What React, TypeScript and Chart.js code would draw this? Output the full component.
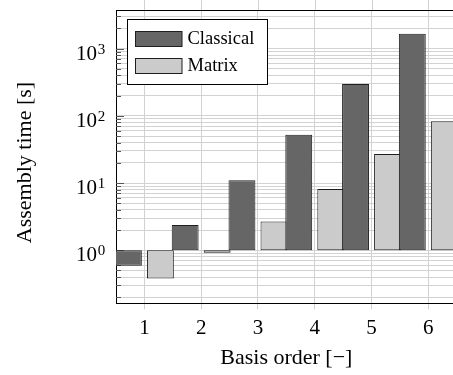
import React, { useEffect, useRef } from "react";
import { Chart, registerables } from "chart.js";

Chart.register(...registerables);

// ---- data ----
const categories = ["1", "2", "3", "4", "5", "6"];
const seriesNames = ["Classical", "Matrix"];
const classical = [0.59, 2.38, 10.96, 52.4, 297, 1660];
const matrix = [0.38, 0.915, 2.67, 8.17, 27.1, 82.6];
const barBase = 1;
const yMin = 0.1626;
const yMax = 3741;
const decadeExponents = [-1, 0, 1, 2, 3];
const minorMultipliers = [1, 2, 3, 4, 5, 6, 7, 8, 9];
const majorTickValues = [1, 10, 100, 1000];
const majorTickExps = ["0", "1", "2", "3"];
const xTitle = "Basis order [\u2212]";
const yTitle = "Assembly time [s]";

// ---- styles ----
const SERIF = "'Liberation Serif', 'Times New Roman', serif";
const classicalFill = "#666666";
const matrixFill = "#cbcbcb";
const barBorder = "#1e1e1e";
const gridColor = "#d2d2d2";

const CANVAS_W = 470;
const CANVAS_H = 375;
const PLOT_LEFT = 116;
const PLOT_RIGHT = 456.7;
const PLOT_TOP = 10;
const PLOT_BOTTOM = 303.3;

const overlay = {
  id: "overlay",
  beforeDatasetsDraw(chart: any) {
    const ctx = chart.ctx;
    const { left } = chart.chartArea;
    const y = chart.scales.y;
    ctx.save();
    ctx.strokeStyle = "#555";
    ctx.lineWidth = 1;
    y.ticks.forEach((t: any) => {
      const py = Math.round(y.getPixelForValue(t.value)) + 0.5;
      const major = majorTickValues.includes(t.value);
      ctx.beginPath();
      ctx.moveTo(left, py);
      ctx.lineTo(left + (major ? 8 : 5), py);
      ctx.stroke();
    });
    ctx.restore();
  },
  afterDraw(chart: any) {
    const ctx = chart.ctx;
    const { left, right, top, bottom } = chart.chartArea;
    const x = chart.scales.x;
    const y = chart.scales.y;
    ctx.save();

    // top tick marks (outside) at x ticks
    ctx.strokeStyle = gridColor;
    ctx.lineWidth = 1;
    x.ticks.forEach((_t: any, i: number) => {
      const px = Math.round(x.getPixelForTick(i)) + 0.5;
      ctx.beginPath();
      ctx.moveTo(px, 0);
      ctx.lineTo(px, top);
      ctx.stroke();
    });

    // top axis line
    ctx.strokeStyle = "#000";
    ctx.beginPath();
    ctx.moveTo(left, Math.round(top) + 0.5);
    ctx.lineTo(right, Math.round(top) + 0.5);
    ctx.stroke();

    // x tick labels
    ctx.fillStyle = "#000";
    ctx.font = `21px ${SERIF}`;
    ctx.textAlign = "center";
    ctx.textBaseline = "alphabetic";
    categories.forEach((c, i) => {
      ctx.fillText(c, x.getPixelForTick(i), bottom + 30.7);
    });

    // y tick labels (10^n)
    majorTickValues.forEach((v, i) => {
      const py = y.getPixelForValue(v);
      ctx.font = `21px ${SERIF}`;
      ctx.textAlign = "right";
      ctx.fillText("10", 97, py + 11);
      ctx.font = `15px ${SERIF}`;
      ctx.textAlign = "left";
      ctx.fillText(majorTickExps[i], 97.8, py + 5);
    });

    // axis titles
    ctx.font = `22px ${SERIF}`;
    ctx.textAlign = "center";
    ctx.fillText(xTitle, (left + right) / 2, 364.3);
    ctx.save();
    ctx.translate(31, 162.5);
    ctx.rotate(-Math.PI / 2);
    ctx.fillText(yTitle, 0, 0);
    ctx.restore();

    // legend
    ctx.fillStyle = "#fff";
    ctx.fillRect(127.5, 19.5, 140, 65);
    ctx.strokeStyle = "#000";
    ctx.lineWidth = 1;
    ctx.strokeRect(127.5, 19.5, 140, 65);
    const fills = [classicalFill, matrixFill];
    const swY = [31.5, 58.5];
    const txY = [43.5, 71];
    seriesNames.forEach((name, i) => {
      ctx.fillStyle = fills[i];
      ctx.fillRect(135.5, swY[i], 46.5, 15);
      ctx.strokeStyle = barBorder;
      ctx.strokeRect(135.5, swY[i], 46.5, 15);
      ctx.fillStyle = "#000";
      ctx.font = `18.5px ${SERIF}`;
      ctx.textAlign = "left";
      ctx.fillText(name, 187.5, txY[i]);
    });

    ctx.restore();
  },
};

export default function App() {
  const canvasRef = useRef<HTMLCanvasElement | null>(null);

  useEffect(() => {
    if (!canvasRef.current) return;
    const yTicks: number[] = [];
    decadeExponents.forEach((e) => {
      minorMultipliers.forEach((m) => {
        const v = Number((m * Math.pow(10, e)).toPrecision(6));
        if (v >= yMin && v <= yMax) yTicks.push(v);
      });
    });

    const chart = new Chart(canvasRef.current, {
      type: "bar",
      data: {
        labels: categories,
        datasets: [
          {
            label: seriesNames[0],
            data: classical.map((v) => [barBase, v]) as any,
            backgroundColor: classicalFill,
            borderColor: barBorder,
            borderWidth: 1,
            borderSkipped: false,
          },
          {
            label: seriesNames[1],
            data: matrix.map((v) => [barBase, v]) as any,
            backgroundColor: matrixFill,
            borderColor: barBorder,
            borderWidth: 1,
            borderSkipped: false,
          },
        ],
      },
      options: {
        animation: false,
        responsive: false,
        maintainAspectRatio: false,
        events: [],
        datasets: {
          bar: {
            categoryPercentage: 64 / ((PLOT_RIGHT - PLOT_LEFT) / 6),
            barPercentage: 0.84,
          },
        },
        layout: {
          padding: { left: 0, right: CANVAS_W - PLOT_RIGHT, top: PLOT_TOP, bottom: 0 },
        },
        plugins: {
          legend: { display: false },
          tooltip: { enabled: false },
          title: { display: false },
        },
        scales: {
          x: {
            type: "category",
            offset: true,
            grid: {
              offset: false,
              color: gridColor,
              lineWidth: 1,
              drawTicks: true,
              tickLength: 6,
            },
            border: { display: true, color: "#000", width: 1 },
            ticks: { display: false },
            afterFit(scale: any) {
              scale.height = CANVAS_H - PLOT_BOTTOM;
            },
          },
          y: {
            type: "logarithmic",
            min: yMin,
            max: yMax,
            grid: { color: gridColor, lineWidth: 1, drawTicks: false },
            border: { display: true, color: "#000", width: 1 },
            ticks: { display: false },
            afterBuildTicks(scale: any) {
              scale.ticks = yTicks.map((v) => ({ value: v }));
            },
            afterFit(scale: any) {
              scale.width = PLOT_LEFT;
            },
          },
        },
      },
      plugins: [overlay],
    });
    return () => chart.destroy();
  }, []);

  return (
    <div
      style={{
        position: "fixed",
        left: 0,
        top: 0,
        width: 453,
        height: 375,
        overflow: "hidden",
        background: "#fff",
      }}
    >
      <canvas
        ref={canvasRef}
        width={CANVAS_W}
        height={CANVAS_H}
        style={{ width: CANVAS_W, height: CANVAS_H, display: "block" }}
      />
    </div>
  );
}
